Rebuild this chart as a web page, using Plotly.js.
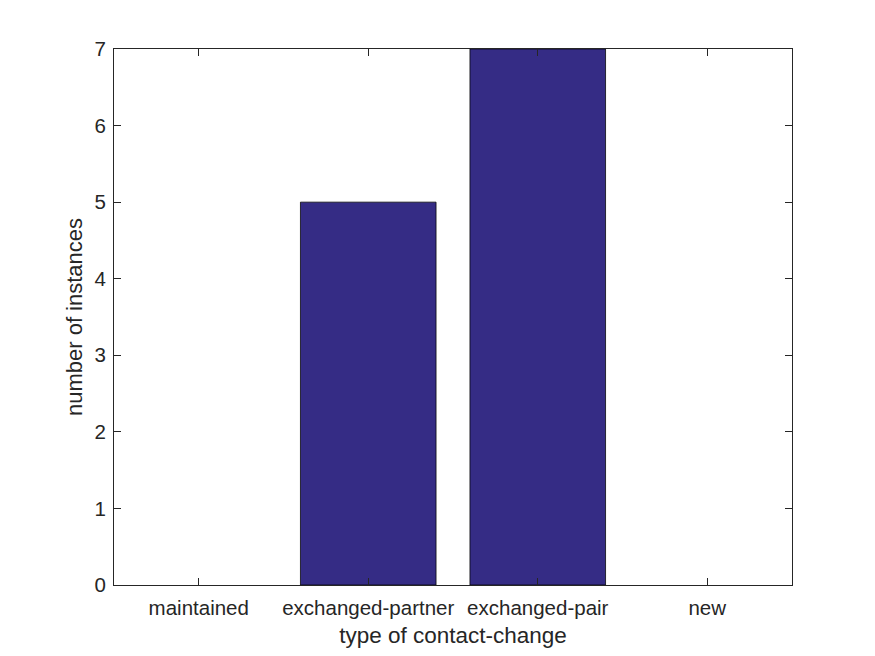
<!DOCTYPE html>
<html>
<head>
<meta charset="utf-8">
<script src="https://cdn.plot.ly/plotly-3.0.1.min.js"></script>
<style>html,body{margin:0;padding:0;background:#fff}#chart{width:875px;height:656px}</style>
</head>
<body>
<div id="chart"></div>
<script>
const categories = ["maintained", "exchanged-partner", "exchanged-pair", "new"];
const counts = [0, 5, 7, 0];
const positions = [1, 2, 3, 4];
const yTicks = [0, 1, 2, 3, 4, 5, 6, 7];

const axisColor = "#262626";
const fontFamily = "Arial, 'Liberation Sans', Helvetica, sans-serif";

const trace = {
  type: "bar",
  x: positions,
  y: counts,
  width: 0.8,
  marker: {
    color: "#352c85",
    line: { color: "#000000", width: counts.map(v => (v > 0 ? 0.75 : 0)) }
  },
  hoverinfo: "x+y"
};

const layout = {
  width: 875,
  height: 656,
  margin: { l: 114, r: 83, t: 49, b: 71 },
  paper_bgcolor: "#ffffff",
  plot_bgcolor: "#ffffff",
  showlegend: false,
  font: { family: fontFamily, color: axisColor, size: 20 },
  xaxis: {
    range: [0.5, 4.5],
    tickvals: positions,
    ticktext: categories,
    ticks: "inside",
    ticklen: 7,
    tickwidth: 1,
    tickcolor: axisColor,
    showline: true,
    linecolor: axisColor,
    linewidth: 1,
    mirror: "ticks",
    showgrid: false,
    zeroline: false,
    ticklabelstandoff: 4,
    tickfont: { size: 20.5, color: axisColor },
    title: { text: "type of contact-change", font: { size: 22.5, color: axisColor }, standoff: 9 }
  },
  yaxis: {
    range: [0, 7],
    tickvals: yTicks,
    ticks: "inside",
    ticklen: 7,
    tickwidth: 1,
    tickcolor: axisColor,
    showline: true,
    linecolor: axisColor,
    linewidth: 1,
    mirror: "ticks",
    showgrid: false,
    zeroline: false,
    ticklabelstandoff: 3,
    tickfont: { size: 20.5, color: axisColor },
    title: { text: "number of instances", font: { size: 22, color: axisColor }, standoff: 5 }
  }
};

Plotly.newPlot("chart", [trace], layout, { displayModeBar: false, staticPlot: true });
</script>
</body>
</html>
